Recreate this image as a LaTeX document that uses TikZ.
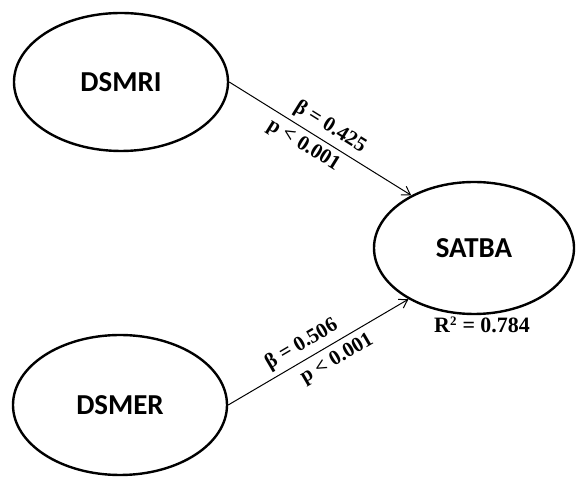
\documentclass[tikz,border=0pt]{standalone}
\usepackage{fontspec}
\setmainfont{Liberation Serif}
\newfontfamily\calib{Carlito}
\usetikzlibrary{shapes.geometric,arrows.meta}
\begin{document}
\begin{tikzpicture}[x=1bp,y=1bp,
  latent/.style={draw, ellipse, line width=2.4bp, inner sep=0pt,
    font=\calib\bfseries\fontsize{29}{33}\selectfont},
  pathline/.style={line width=1bp, -{Straight Barb[length=8bp,width=10bp,line width=1bp]}},
  lbl/.style={font=\bfseries\fontsize{21}{24}\selectfont, sloped, inner sep=1pt}]
\useasboundingbox (0,0) rectangle (576,477);
\fill[white] (0,0) rectangle (576,477);
\node[latent, minimum width=214bp, minimum height=138bp] (dsmri) at (121,395) {DSMRI};
\node[latent, minimum width=200bp, minimum height=132bp] (satba) at (474,229) {SATBA};
\node[latent, minimum width=214bp, minimum height=140bp] (dsmer) at (120,72) {DSMER};
\draw[pathline] (dsmri.east) -- (satba.140)
  node[lbl, pos=0.51, above=4bp] (b1) {β = 0.425}
  node[lbl, pos=0.45, below=4bp] (p1) {p < 0.001};
\draw[pathline] (dsmer.east) -- (satba.218)
  node[lbl, pos=0.45, above=4bp] (b2) {β = 0.506}
  node[lbl, pos=0.56, below=5bp] (p2) {p < 0.001};
\node[font=\bfseries\fontsize{22}{26}\selectfont] (r2) at (482,152) {R\textsuperscript{\fontsize{13}{13}\selectfont 2} = 0.784};
\end{tikzpicture}
\end{document}
